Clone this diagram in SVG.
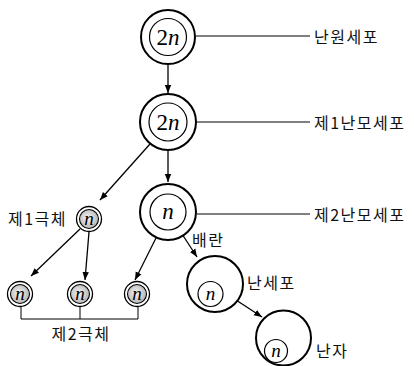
<svg xmlns="http://www.w3.org/2000/svg" width="414" height="366" viewBox="0 0 414 366">
<style>
.outer{fill:#fff;stroke:#000;stroke-width:2}
.inner{fill:#fff;stroke:#000;stroke-width:1.2}
.pb-o{fill:#fff;stroke:#000;stroke-width:1.3}
.pb-i{fill:url(#g);stroke:#000;stroke-width:1.1}
.n{font-family:"Liberation Serif",serif;font-style:italic;fill:#000;text-anchor:middle}
.lbl{font-family:"Noto Sans CJK KR","Noto Sans",sans-serif;font-size:16px;letter-spacing:1.5px;fill:#111}
.ln{stroke:#000;stroke-width:1;fill:none}
.arr{stroke:#000;stroke-width:1.3;fill:none;marker-end:url(#ah)}
</style>
<defs>
<radialGradient id="g" cx="0.45" cy="0.45" r="0.6">
<stop offset="0" stop-color="#f6f6f6"/>
<stop offset="1" stop-color="#b0b0b0"/>
</radialGradient>
<marker id="ah" viewBox="0 0 10 10" refX="10" refY="5" markerWidth="8" markerHeight="8" markerUnits="userSpaceOnUse" orient="auto">
<path d="M0,1 L10,5 L0,9 Z" fill="#000"/>
</marker>
</defs>
<g id="connectors">
<line class="ln" x1="196" y1="36" x2="310" y2="36"/>
<line class="ln" x1="197" y1="122" x2="310" y2="122"/>
<line class="ln" x1="197" y1="214" x2="310" y2="214"/>
<line class="arr" x1="168" y1="64" x2="168" y2="93"/>
<line class="arr" x1="168" y1="151" x2="168" y2="182"/>
<line class="arr" x1="150" y1="144" x2="100" y2="200"/>
<line class="arr" x1="80" y1="229" x2="31" y2="276"/>
<line class="arr" x1="89" y1="232" x2="85" y2="280"/>
<line class="arr" x1="156" y1="238" x2="135" y2="280"/>
<line class="arr" x1="182" y1="234" x2="197" y2="257"/>
<line class="arr" x1="236" y1="300" x2="262" y2="317"/>
<path class="ln" d="M21,307 V319 H138 V307 M80,307 V319"/>
</g>
<g id="oogonium">
<circle class="outer" cx="168" cy="37" r="27"/>
<circle class="inner" cx="168" cy="37" r="18.5"/>
<text class="n" x="168" y="45" font-size="23"><tspan font-style="normal">2</tspan>n</text>
<text class="lbl" x="314" y="43">난원세포</text>
</g>
<g id="primary-oocyte">
<circle class="outer" cx="168" cy="122" r="28"/>
<circle class="inner" cx="168" cy="122" r="19"/>
<text class="n" x="168" y="130" font-size="23"><tspan font-style="normal">2</tspan>n</text>
<text class="lbl" x="314" y="129">제1난모세포</text>
</g>
<g id="secondary-oocyte">
<circle class="outer" cx="168" cy="212" r="28"/>
<circle class="inner" cx="168" cy="212" r="18"/>
<text class="n" x="168" y="219" font-size="23">n</text>
<text class="lbl" x="314" y="221">제2난모세포</text>
</g>
<g id="first-polar-body">
<circle class="pb-o" cx="89" cy="219" r="12.5"/>
<circle class="pb-i" cx="89" cy="219" r="9.5"/>
<text class="n" x="89" y="225" font-size="19">n</text>
<text class="lbl" x="8" y="225">제1극체</text>
</g>
<g id="second-polar-body-1">
<circle class="pb-o" cx="20" cy="294" r="12.5"/>
<circle class="pb-i" cx="20" cy="294" r="9.5"/>
<text class="n" x="20" y="300" font-size="19">n</text>
</g>
<g id="second-polar-body-2">
<circle class="pb-o" cx="80" cy="294" r="12.5"/>
<circle class="pb-i" cx="80" cy="294" r="9.5"/>
<text class="n" x="80" y="300" font-size="19">n</text>
</g>
<g id="second-polar-body-3">
<circle class="pb-o" cx="137" cy="294" r="12.5"/>
<circle class="pb-i" cx="137" cy="294" r="9.5"/>
<text class="n" x="137" y="300" font-size="19">n</text>
</g>
<text class="lbl" x="81" y="340" text-anchor="middle">제2극체</text>
<text class="lbl" x="192" y="246">배란</text>
<g id="egg-cell">
<circle class="outer" cx="215" cy="284" r="28"/>
<circle class="inner" cx="210.5" cy="294" r="12.5"/>
<text class="n" x="210.5" y="300" font-size="19">n</text>
<text class="lbl" x="247" y="289">난세포</text>
</g>
<g id="ovum">
<circle class="outer" cx="283.5" cy="338" r="27.5"/>
<circle class="inner" cx="276" cy="351" r="11.5"/>
<text class="n" x="276" y="357" font-size="19">n</text>
<text class="lbl" x="316" y="357">난자</text>
</g>
</svg>
